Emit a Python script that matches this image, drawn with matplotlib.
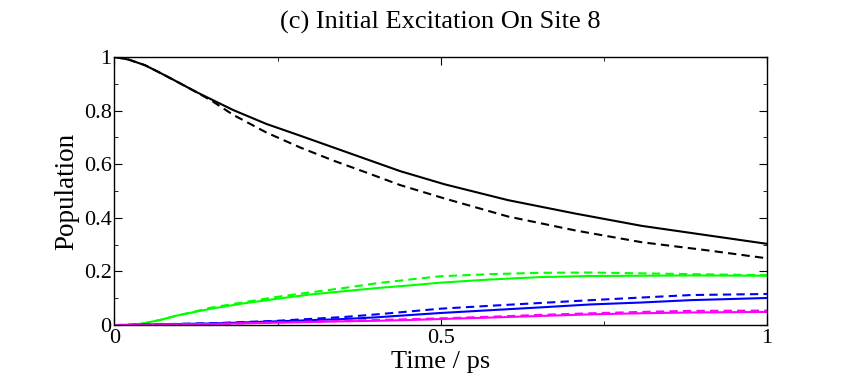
import numpy as np
import matplotlib
matplotlib.use("Agg")
import matplotlib.pyplot as plt
from matplotlib.ticker import MultipleLocator

plt.rcParams['font.family'] = ['Liberation Serif', 'DejaVu Serif']

# values (time in ps, population)
t_black = [0.0, 0.022, 0.047, 0.073, 0.098, 0.124, 0.150, 0.182, 0.233, 0.285, 0.336,
           0.387, 0.438, 0.506, 0.603, 0.706, 0.808, 0.911, 1.0]
black_solid = [1.0, 0.99, 0.969, 0.937, 0.905, 0.871, 0.840, 0.802, 0.750, 0.706, 0.662,
               0.618, 0.574, 0.525, 0.466, 0.416, 0.370, 0.334, 0.303]
black_dash = [1.0, 0.99, 0.969, 0.937, 0.905, 0.871, 0.835, 0.784, 0.718, 0.662, 0.613,
              0.568, 0.522, 0.472, 0.405, 0.353, 0.309, 0.278, 0.249]

t_green = [0.0, 0.024, 0.044, 0.070, 0.095, 0.121, 0.146, 0.198, 0.249, 0.300, 0.351,
           0.402, 0.453, 0.499, 0.576, 0.653, 0.730, 0.806, 0.883, 1.0]
green_solid = [0.0, 0.0, 0.006, 0.019, 0.035, 0.048, 0.060, 0.081, 0.098, 0.114, 0.126,
               0.138, 0.148, 0.158, 0.170, 0.179, 0.183, 0.184, 0.185, 0.184]
green_dash = [0.0, 0.0, 0.006, 0.019, 0.035, 0.049, 0.064, 0.085, 0.105, 0.122, 0.138,
              0.156, 0.170, 0.182, 0.190, 0.195, 0.196, 0.193, 0.190, 0.186]

t_low = [0.0, 0.15, 0.249, 0.351, 0.402, 0.453, 0.499, 0.576, 0.653, 0.730, 0.806, 0.883, 1.0]
blue_solid = [0.0, 0.006, 0.014, 0.0225, 0.029, 0.0375, 0.045, 0.0555, 0.066, 0.077, 0.084, 0.093, 0.101]
blue_dash = [0.0, 0.007, 0.016, 0.030, 0.040, 0.051, 0.061, 0.072, 0.0825, 0.093, 0.1025, 0.112, 0.116]
magenta_solid = [0.0, 0.004, 0.009, 0.014, 0.016, 0.019, 0.0225, 0.028, 0.034, 0.040, 0.044, 0.047, 0.049]
magenta_dash = [0.0, 0.004, 0.010, 0.016, 0.019, 0.022, 0.025, 0.031, 0.038, 0.044, 0.049, 0.053, 0.054]

fig = plt.figure(figsize=(8.41, 3.82), dpi=100)
ax = fig.add_axes([0.136, 0.149, 0.776, 0.702])

lw = 1.5
dash = (4, 2.5)
ax.plot(t_black, black_solid, color='black', lw=lw)
ax.plot(t_black, black_dash, color='black', lw=lw, dashes=dash)
ax.plot(t_green, green_solid, color='#00ff00', lw=lw)
ax.plot(t_green, green_dash, color='#00ff00', lw=lw, dashes=dash)
ax.plot(t_low, blue_solid, color='#0000ff', lw=lw)
ax.plot(t_low, blue_dash, color='#0000ff', lw=lw, dashes=dash)
ax.plot(t_low, magenta_solid, color='#ff00ff', lw=lw)
ax.plot(t_low, magenta_dash, color='#ff00ff', lw=lw, dashes=dash)

ax.set_xlim(0, 1)
ax.set_ylim(0, 1)
ax.xaxis.set_major_locator(MultipleLocator(0.5))
ax.xaxis.set_minor_locator(MultipleLocator(0.25))
ax.yaxis.set_major_locator(MultipleLocator(0.2))
ax.yaxis.set_minor_locator(MultipleLocator(0.1))
ax.xaxis.set_major_formatter(plt.FuncFormatter(lambda v, p: '%g' % v))
ax.yaxis.set_major_formatter(plt.FuncFormatter(lambda v, p: '%g' % v))
ax.tick_params(which='both', direction='in', top=True, right=True, labelsize=16)
ax.tick_params(axis='x', pad=3)
ax.tick_params(axis='y', pad=2)
ax.tick_params(which='major', length=6)
ax.tick_params(which='minor', length=3)
for s in ax.spines.values():
    s.set_linewidth(1.0)

ax.set_xlabel('Time / ps', fontsize=19, labelpad=2)
ax.set_ylabel('Population', fontsize=19.5, labelpad=3)
fig.text(0.523, 0.942, '(c) Initial Excitation On Site 8', fontsize=19, ha='center', va='center')

fig.savefig('out.png', dpi=100)
